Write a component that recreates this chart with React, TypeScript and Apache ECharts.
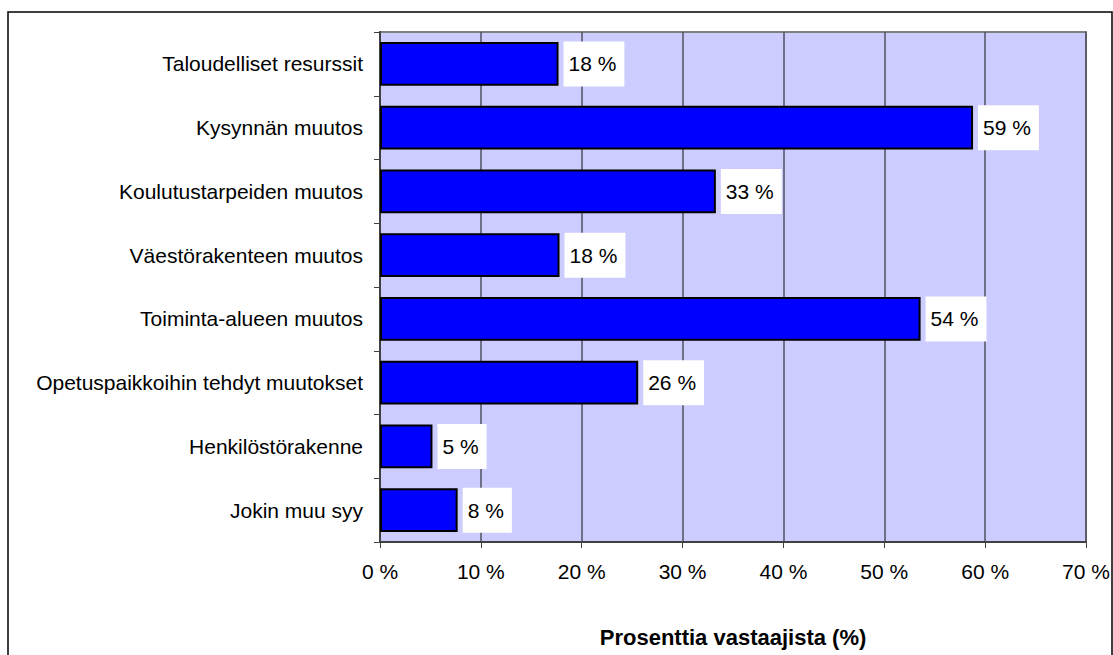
import React, { useEffect, useRef } from "react";
import * as echarts from "echarts";

const categories = [
  "Taloudelliset resurssit",
  "Kysynnän muutos",
  "Koulutustarpeiden muutos",
  "Väestörakenteen muutos",
  "Toiminta-alueen muutos",
  "Opetuspaikkoihin tehdyt muutokset",
  "Henkilöstörakenne",
  "Jokin muu syy",
];
const values = [17.7, 58.8, 33.3, 17.8, 53.6, 25.6, 5.2, 7.7];
const xTicks = [0, 10, 20, 30, 40, 50, 60, 70];

const FONT = "'Liberation Sans', Arial, sans-serif";

export default function App() {
  const ref = useRef<HTMLDivElement>(null);
  useEffect(() => {
    document.body.style.margin = "0";
    const chart = echarts.init(ref.current!, undefined, { renderer: "svg" });
    chart.setOption({
      animation: false,
      backgroundColor: "#ffffff",
      graphic: [
        {
          type: "rect",
          shape: { x: 8, y: 12, width: 1104, height: 660 },
          style: { fill: "none", stroke: "#000", lineWidth: 1.5 },
          silent: true,
        },
      ],
      grid: {
        left: 380,
        top: 32,
        width: 706,
        height: 510,
        outerBoundsMode: "none",
        containLabel: false,
        show: true,
        backgroundColor: "#CCCCFF",
        borderColor: "#808080",
        borderWidth: 2,
      },
      xAxis: {
        type: "value",
        min: xTicks[0],
        max: xTicks[xTicks.length - 1],
        interval: 10,
        axisLine: { show: true, lineStyle: { color: "#404040", width: 2 } },
        axisTick: { show: true, length: 6, lineStyle: { color: "#404040", width: 1 } },
        splitLine: { show: true, lineStyle: { color: "#505060", width: 1.5 } },
        axisLabel: {
          formatter: (v: number) => `${v} %`,
          fontSize: 21,
          color: "#000",
          fontFamily: FONT,
          margin: 19,
        },
        name: "Prosenttia vastaajista (%)",
        nameLocation: "middle",
        nameGap: 84,
        nameTextStyle: { fontSize: 22, fontWeight: "bold", color: "#000", fontFamily: FONT },
      },
      yAxis: {
        type: "category",
        data: categories,
        inverse: true,
        axisLine: { show: true, lineStyle: { color: "#404040", width: 2 } },
        axisTick: { show: true, length: 6, inside: false, lineStyle: { color: "#404040" } },
        axisLabel: { fontSize: 21, color: "#000", fontFamily: FONT, margin: 17 },
      },
      series: [
        {
          type: "bar",
          data: values,
          barCategoryGap: "31%",
          itemStyle: { color: "#0000FF", borderColor: "#000", borderWidth: 2 },
          label: {
            show: true,
            position: "right",
            distance: 5,
            formatter: (p: any) => `${Math.round(p.value)} %`,
            fontSize: 21,
            color: "#000",
            fontFamily: FONT,
            backgroundColor: "#ffffff",
            padding: [12, 8, 12, 5],
          },
        },
      ],
    });
    return () => chart.dispose();
  }, []);
  return <div ref={ref} style={{ width: 1113, height: 655 }} />;
}
